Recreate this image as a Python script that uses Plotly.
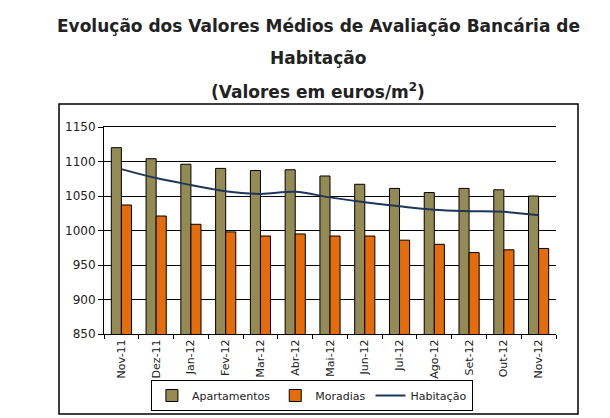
import plotly.graph_objects as go

# Dados (euros/m2)
meses = ['Nov-11', 'Dez-11', 'Jan-12', 'Fev-12', 'Mar-12', 'Abr-12', 'Mai-12',
         'Jun-12', 'Jul-12', 'Ago-12', 'Set-12', 'Out-12', 'Nov-12']
apartamentos = [1120, 1104, 1096, 1090, 1087, 1088, 1079, 1067, 1061, 1055, 1061, 1059, 1050]
moradias = [1037, 1021, 1009, 998, 992, 995, 992, 992, 986, 980, 968, 972, 974]
habitacao = [1089, 1076, 1066, 1057, 1053, 1056, 1048, 1041, 1035, 1030, 1028, 1027, 1022]

fonte = 'DejaVu Sans'

fig = go.Figure()
fig.add_trace(go.Bar(x=meses, y=apartamentos, name='Apartamentos',
                     marker=dict(color='#948A54', line=dict(color='black', width=1))))
fig.add_trace(go.Bar(x=meses, y=moradias, name='Moradias',
                     marker=dict(color='#E46C0A', line=dict(color='black', width=1))))
fig.add_trace(go.Scatter(x=meses, y=habitacao, name='Habitação', mode='lines',
                         line=dict(color='#1F3657', width=2, shape='spline')))

# Titulo em tres linhas
titulos = [('Evolução dos Valores Médios de Avaliação Bancária de', 18),
           ('Habitação', 50),
           ('(Valores em euros/m<sup>2</sup>)', 83)]
for texto, ypx in titulos:
    fig.add_annotation(text='<b>' + texto + '</b>', xref='paper', yref='paper',
                       x=(310 - 96) / 452, y=(326 - ypx) / 207,
                       xanchor='center', yanchor='middle', showarrow=False,
                       font=dict(family=fonte, size=17, color='#222222'))

# Moldura do grafico
fig.add_shape(type='rect', xref='paper', yref='paper',
              x0=(51 - 96) / 452, x1=(570 - 96) / 452,
              y0=(326 - 406) / 207, y1=(326 - 96) / 207,
              line=dict(color='black', width=1.5), fillcolor='rgba(0,0,0,0)')

fig.update_layout(
    width=610, height=418,
    margin=dict(l=96, r=62, t=119, b=92),
    paper_bgcolor='white', plot_bgcolor='white',
    barmode='group', bargap=0.42, bargroupgap=0,
    font=dict(family=fonte, size=11, color='#222222'),
    showlegend=True,
    legend=dict(orientation='h', x=0.46, xanchor='center', y=(326 - 372) / 207, yanchor='top',
                bordercolor='black', borderwidth=1, bgcolor='white',
                font=dict(family=fonte, size=11, color='#222222'),
                itemwidth=30, tracegroupgap=0),
)
fig.update_yaxes(range=[850, 1150], tickvals=[850, 900, 950, 1000, 1050, 1100, 1150],
                 showgrid=True, gridcolor='black', gridwidth=1,
                 showline=True, linecolor='black', ticks='outside', ticklen=5, tickcolor='black',
                 zeroline=False, tickfont=dict(size=12))
fig.update_xaxes(showline=True, linecolor='black', ticks='outside', ticklen=4, tickcolor='black',
                 tickson='boundaries', tickangle=-90, showgrid=False, tickfont=dict(size=11),
                 mirror=True)

fig.write_html('out.html')
